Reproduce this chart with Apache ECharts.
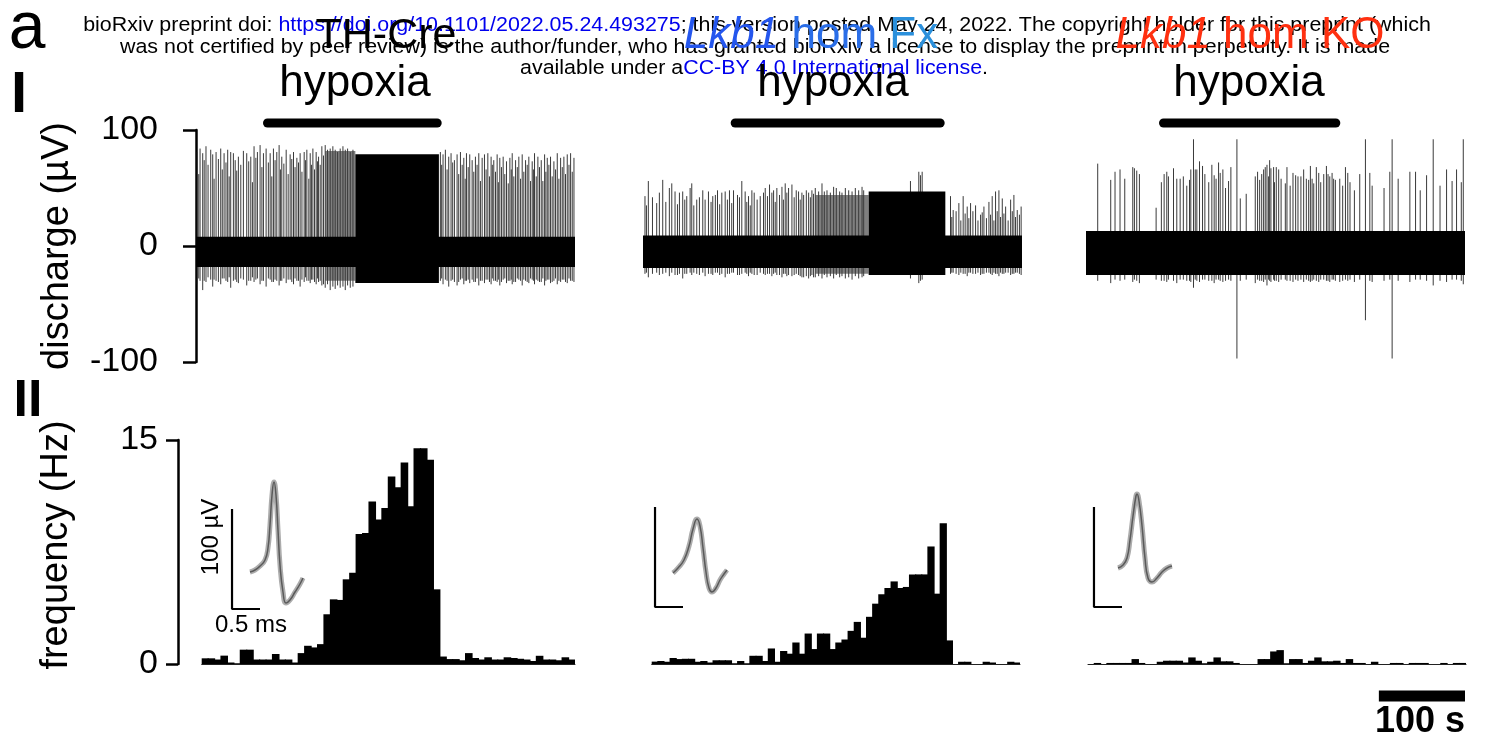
<!DOCTYPE html>
<html>
<head>
<meta charset="utf-8">
<script src="https://cdn.jsdelivr.net/npm/echarts@6/dist/echarts.min.js"></script>
<style>html,body{margin:0;padding:0;background:#fff}#chart{width:1499px;height:742px}</style>
</head>
<body>
<div id="chart"></div>
<script>
let $ = a => document.querySelector(a)

// ---------- data ----------
// time axis of the raw traces (s)
const traceRange = [0, 440]
// hypoxia periods (s)
const hypoxia1 = [83, 280]
const hypoxia2 = [107, 345]
const hypoxia3 = [90, 290]

// noise bands [t0, t1, low uV, high uV]
const noise1 = [[0, 440, -18, 8]]
const noise2 = [[0, 440, -19, 9]]
const noise3 = [[0, 440, -25, 13]]
// partly filled zones (many overlapping spikes)
const partial1 = [[150, 185, -30, 82]]
const partial2 = [[200, 262, -24, 44]]
const partial3 = []
// fully black zones
const dense1 = [[185, 282, -32, 79]]
const dense2 = [[262, 351, -25, 47]]
const dense3 = []

// single spikes [t (s), peak uV, trough uV]
const spikes1 = [[1.6,81,-33],[4.7,84,-30],[7.8,80,-38],[11.6,86,-31],[17.1,83,-29],[19.4,79,-35],[23.3,81,-30],[28.7,84,-33],[32.6,80,-28],[36.8,83,-31],[40.3,81,-36],[43.4,80,-30],[49.2,77,-32],[55.0,82,-29],[58.9,80,-34],[63.6,77,-30],[67.4,86,-31],[71.3,81,-28],[74.4,87,-33],[78.3,80,-30],[81.4,84,-35],[86.1,80,-29],[89.9,84,-31],[93.8,81,-30],[96.5,87,-34],[99.6,77,-30],[104.7,83,-32],[109.3,79,-29],[113.2,81,-33],[117.1,76,-30],[120.9,80,-35],[125.6,81,-31],[128.7,83,-30],[132.6,80,-32],[135.7,84,-29],[139.5,81,-33],[142.3,77,-31],[146.1,86,-34],
  [3.2,62,-28],[9.5,74,-30],[14.0,70,-27],[21.0,58,-29],[26.0,75,-31],[30.5,66,-28],[34.8,72,-30],[38.5,60,-27],[45.5,74,-29],[47.3,65,-31],[52.0,70,-28],[61.2,73,-30],[65.5,55,-27],[69.5,76,-29],[76.5,68,-30],[84.0,72,-28],[88.0,60,-31],[91.8,74,-29],[98.0,66,-30],[102.0,71,-28],[107.0,62,-29],[111.2,75,-31],[115.0,68,-28],[119.0,72,-30],[123.0,64,-29],[127.2,74,-27],[131.0,58,-30],[134.0,70,-29],[137.6,66,-31],[141.0,73,-28],[144.2,70,-30],[148.0,78,-33],
  [150.0,87,-36],[152.7,83,-33],[155.8,84,-38],[158.9,86,-35],[161.6,83,-37],[164.4,81,-34],[167.4,84,-36],[170.6,86,-35],[173.3,83,-38],[176.0,84,-34],[179.1,81,-36],[182.2,83,-35],
  [283.7,81,-30],[286.8,79,-33],[289.5,83,-29],[293.4,77,-35],[296.1,80,-30],[300.0,74,-31],[303.1,79,-34],[307.0,81,-29],[310.9,76,-33],[314.0,80,-30],[317.8,79,-32],[320.6,74,-29],[324.4,77,-31],[328.3,80,-34],[332.2,76,-30],[334.9,79,-32],[338.8,80,-29],[342.6,77,-33],[345.7,74,-30],[349.6,79,-31],[352.7,76,-34],[356.6,77,-29],[360.5,73,-32],[364.4,76,-30],[367.1,80,-33],[371.0,74,-31],[374.8,77,-29],[378.7,79,-34],[382.6,74,-30],[386.4,77,-32],[390.3,73,-29],[393.0,80,-33],[396.9,77,-30],[400.8,74,-31],[404.7,79,-34],[407.8,76,-29],[411.6,77,-32],[415.5,73,-30],[419.4,80,-33],[423.3,76,-31],[427.1,77,-29],[431.0,79,-32],[434.9,80,-30],[438.8,76,-31],
  [285.2,70,-28],[291.5,66,-30],[298.0,72,-29],[305.0,62,-31],[309.0,70,-28],[312.5,58,-30],[316.0,68,-29],[322.5,64,-31],[326.3,70,-28],[330.2,56,-30],[336.8,66,-29],[340.7,60,-31],[344.0,70,-28],[347.7,64,-30],[351.0,55,-29],[354.6,68,-31],[358.5,62,-28],[362.5,54,-30],[366.0,66,-29],[369.0,60,-31],[373.0,68,-28],[376.8,58,-30],[380.6,64,-29],[384.5,70,-31],[388.4,56,-28],[391.7,66,-30],[395.0,60,-29],[398.8,68,-31],[402.7,56,-28],[406.2,64,-30],[409.7,70,-29],[413.5,60,-31],[417.4,66,-28],[421.3,58,-30],[425.2,68,-29],[429.0,62,-31],[433.0,70,-28],[436.8,64,-30]]

const spikes2 = [[2.3,43,-24],[6.2,56,-27],[15.9,37,-23],[19.0,46,-25],[22.9,57,-24],[30.6,50,-26],[33.4,54,-23],[37.2,47,-25],[42.3,46,-24],[46.1,47,-28],[50.8,43,-24],[54.7,50,-23],[56.6,54,-25],[62.4,40,-24],[69.4,48,-23],[72.1,40,-26],[76.0,47,-24],[81.0,43,-25],[86.5,48,-23],[91.5,46,-24],[95.4,47,-27],[100.4,48,-24],[105.1,48,-23],[109.7,44,-25],[114.7,56,-24],[118.6,47,-23],[122.5,43,-26],[126.4,48,-24],[129.1,46,-25],[136.1,43,-23],[139.9,46,-24],[141.9,50,-25],[146.9,53,-24],[149.6,46,-26],[151.6,48,-24],[155.4,50,-25],[161.3,51,-27],[165.1,54,-24],[169.0,50,-25],[172.9,53,-26],[177.9,48,-24],[180.6,47,-25],[184.5,46,-27],[189.6,48,-26],[192.3,46,-28],[196.1,48,-25],[200.0,50,-27],[203.9,47,-26],[207.8,54,-28],[210.5,47,-25],[213.6,48,-27],[217.5,46,-26],[221.3,51,-28],[224.4,50,-25],[228.3,47,-27],[231.0,46,-26],[234.9,50,-28],[238.8,48,-27],[242.7,47,-29],[246.5,50,-26],[250.4,48,-28],[254.3,51,-27],[256.2,48,-26],
  [4.0,35,-23],[11.0,42,-24],[26.5,38,-23],[40.0,36,-25],[48.5,40,-24],[59.0,35,-23],[65.5,42,-25],[79.0,38,-24],[84.0,44,-23],[89.0,36,-25],[98.0,40,-24],[103.0,37,-23],[112.0,42,-25],[120.5,38,-24],[124.5,35,-23],[132.5,40,-25],[144.5,43,-24],[153.5,38,-23],[158.5,44,-25],[163.0,40,-24],[167.0,46,-26],[175.5,42,-25],[182.5,40,-26],[186.5,44,-27],[194.3,42,-26],[198.0,45,-27],
  [310.5,56,-28],[320.2,64,-32],[322.1,61,-30],[324.1,64,-29],
  [357.0,43,-24],[360.1,31,-23],[366.7,37,-25],[371.7,43,-24],[376.4,34,-26],[380.3,37,-23],[386.1,35,-24],[391.9,27,-25],[395.8,34,-24],[401.6,38,-23],[405.4,43,-25],[409.3,47,-24],[413.2,48,-26],[417.1,41,-24],[421.0,34,-23],[426.8,40,-25],[430.6,44,-24],[434.5,31,-23],[439.0,34,-25],
  [358.5,25,-23],[363.5,30,-24],[369.0,22,-23],[374.0,28,-24],[378.3,24,-23],[383.0,30,-24],[388.9,22,-23],[393.8,29,-24],[398.7,24,-23],[403.5,27,-24],[407.4,22,-23],[411.2,30,-24],[415.1,25,-23],[419.0,28,-24],[423.9,22,-23],[428.7,30,-24],[432.5,25,-23],[437.0,27,-24]]

const spikes3 = [[13.6,71,-30],[28.7,57,-32],[33.7,64,-29],[39.5,66,-30],[54.3,68,-31],[56.2,67,-29],[58.9,65,-30],[62.0,62,-32],[81.4,33,-29],[90.7,62,-30],[93.8,64,-31],[95.7,60,-29],[101.6,67,-30],[105.4,58,-32],[109.3,58,-29],[120.2,57,-30],[121.7,66,-31],[124.8,92,-36],[126.8,66,-29],[128.7,66,-30],[131.8,73,-31],[135.3,69,-29],[146.1,70,-30],[148.8,61,-32],[153.9,72,-29],[155.8,63,-30],[158.9,66,-31],[165.5,56,-29],[168.2,68,-30],[175.2,92,-97],[179.1,41,-30],[196.5,60,-32],[199.2,64,-29],[201.6,57,-30],[206.2,66,-31],[208.1,68,-29],[210.1,70,-34],[213.2,74,-30],[214.7,67,-31],[217.8,68,-29],[220.9,68,-30],[223.7,66,-31],[231.4,54,-29],[233.3,68,-30],[240.3,63,-31],[243.4,61,-29],[246.1,60,-30],[252.7,66,-31],[255.8,58,-29],[258.5,57,-30],[260.5,69,-31],[264.4,54,-29],[267.4,68,-30],[270.2,63,-31],[276.0,62,-29],[279.1,69,-30],[283.0,60,-31],[285.7,63,-29],[289.5,57,-30],[294.6,58,-31],[301.2,68,-29],[303.9,63,-30],[311.6,48,-31],[317.8,62,-29],[324.4,92,-64],[329.5,63,-30],[332.2,52,-31],[352.7,64,-29],[355.4,92,-97],[362.4,58,-30],[376.0,64,-31],[382.6,64,-29],[395.4,61,-30],[403.1,92,-34],[418.6,66,-31],[430.2,66,-29],[435.7,55,-30],[438.0,92,-33],
  [45.0,58,-29],[87.5,55,-30],[113.0,60,-29],[117.0,52,-30],[138.0,62,-29],[142.5,55,-30],[151.0,58,-29],[162.0,50,-30],[186.0,45,-29],[204.0,62,-30],[212.0,60,-29],[218.8,55,-30],[226.5,58,-29],[237.0,52,-30],[249.5,60,-29],[262.5,58,-30],[272.5,55,-29],[281.0,62,-30],[287.5,58,-29],[298.0,52,-30],[306.5,55,-29],[346.0,50,-30],[388.0,48,-29],[411.0,52,-30],[425.0,56,-29]]

// firing frequency histograms (Hz per bin)
const freq1 = [0.38,0.38,0.3,0.56,0.1,0.05,0.96,0.96,0.3,0.3,0.3,0.67,0.3,0.3,0.1,0.73,1.22,1.11,1.33,3.33,4.33,4.29,5.67,6.11,8.71,8.78,10.89,9.67,10.44,12.56,11.84,13.49,10.56,14.44,14.44,13.67,5.0,0.5,0.33,0.33,0.25,0.73,0.4,0.3,0.45,0.3,0.3,0.45,0.4,0.35,0.3,0.2,0.55,0.3,0.3,0.25,0.45,0.3]
const freq2 = [0.16,0.2,0.15,0.4,0.33,0.35,0.35,0.15,0.2,0.1,0.25,0.25,0.25,0.05,0.2,0.05,0.55,0.55,0.2,1.04,0.15,0.87,0.69,1.44,0.69,2.04,1.0,2.04,2.04,1.0,1.44,1.64,2.22,2.82,1.76,3.16,4.04,4.67,5.09,5.53,5.09,5.16,6.0,6.0,6.0,7.87,4.71,9.42,1.58,0,0.15,0.15,0,0,0.15,0.1,0,0,0.15,0.1]
const freq3 = [0,0.07,0,0.07,0.07,0.07,0.07,0.33,0.07,0,0,0.15,0.22,0.22,0.22,0.1,0.44,0.22,0.05,0.15,0.44,0.18,0.18,0.07,0,0,0,0.33,0.33,0.84,0.93,0.05,0.33,0.33,0.07,0.22,0.44,0.18,0.18,0.22,0.07,0.33,0.07,0.07,0,0.15,0,0,0.07,0.07,0,0.07,0.07,0.07,0,0,0.07,0,0.07,0.07]

// averaged spike waveforms [ms, uV]
const wave1 = [[0,0],[0.089,2],[0.179,6],[0.268,12],[0.321,24],[0.357,47],[0.393,77],[0.429,90],[0.464,77],[0.5,42],[0.536,7],[0.589,-20],[0.643,-31],[0.714,-28],[0.804,-20],[0.893,-12],[0.946,-6]]
const wave2 = [[0,0],[0.089,5],[0.196,13],[0.286,27],[0.357,44],[0.429,54],[0.482,47],[0.536,25],[0.589,1],[0.643,-15],[0.696,-19],[0.768,-15],[0.839,-7],[0.911,-1],[0.964,3]]
const wave3 = [[0,0],[0.089,3],[0.161,10],[0.214,28],[0.268,52],[0.321,72],[0.339,74],[0.375,67],[0.429,42],[0.482,10],[0.536,-10],[0.607,-14],[0.696,-10],[0.786,-4],[0.875,0],[0.964,2]]
// inset scale bars: corner [ms, uV], 100 uV by 0.5 ms
const scaleCorner1 = [-0.321, -37]
const scaleCorner2 = [-0.321, -34]
const scaleCorner3 = [-0.429, -39]
const scaleUV = 100
const scaleMs = 0.5
// time scale bar (s)
const timeBar = [340, 440]

const yTicksTop = [-100, 0, 100]
const yTicksBottom = [0, 15]

const FONT = "'Liberation Sans', Arial, sans-serif"

// ---------- layout ----------
const topLefts = [196, 643, 1086]
const botGrids = [[201.7, 373.3], [651.7, 368.3], [1088, 378]]
const insetLefts = [[222, 472], [645, 473], [1090, 468]]

let grid = [], xAxis = [], yAxis = [], series = []

function bandItem(color) {
    return function (params, api) {
        let p0 = api.coord([api.value(0), api.value(3)])
        let p1 = api.coord([api.value(1), api.value(2)])
        return {type: 'rect', shape: {x: p0[0], y: p0[1], width: p1[0] - p0[0], height: p1[1] - p0[1]}, style: {fill: color}}
    }
}
function spikeItem(params, api) {
    let a = api.coord([api.value(0), api.value(1)])
    let b = api.coord([api.value(0), api.value(2)])
    return {type: 'line', shape: {x1: a[0], y1: a[1], x2: b[0], y2: b[1]}, style: {stroke: '#3a3a3a', lineWidth: 1}}
}

const panels = [
    {noise: noise1, partial: partial1, dense: dense1, spikes: spikes1, hyp: hypoxia1, freq: freq1, wave: wave1, corner: scaleCorner1},
    {noise: noise2, partial: partial2, dense: dense2, spikes: spikes2, hyp: hypoxia2, freq: freq2, wave: wave2, corner: scaleCorner2},
    {noise: noise3, partial: partial3, dense: dense3, spikes: spikes3, hyp: hypoxia3, freq: freq3, wave: wave3, corner: scaleCorner3},
]

const axisStyle = {lineStyle: {color: '#000', width: 2.5}}

// top traces: grids 0..2
panels.forEach((p, i) => {
    grid.push({left: topLefts[i], top: 130, width: 379, height: 232})
    xAxis.push({gridIndex: i, type: 'value', min: traceRange[0], max: traceRange[1], show: false})
    yAxis.push(i === 0 ? {
        gridIndex: i, type: 'value', min: -100, max: 100, interval: 100, offset: 18,
        axisLine: {show: true, ...axisStyle}, axisTick: {show: true, length: 13, ...axisStyle},
        axisLabel: {fontSize: 34, color: '#000', fontFamily: FONT, margin: 20,
            customValues: yTicksTop},
        splitLine: {show: false}
    } : {gridIndex: i, type: 'value', min: -100, max: 100, show: false})
    series.push({type: 'custom', xAxisIndex: i, yAxisIndex: i, dimensions: ['t0', 't1', 'lo', 'hi'], encode: {x: [0, 1], y: [2, 3]},
        renderItem: bandItem('#000'), data: p.noise, silent: true, z: 3})
    series.push({type: 'custom', xAxisIndex: i, yAxisIndex: i, dimensions: ['t0', 't1', 'lo', 'hi'], encode: {x: [0, 1], y: [2, 3]},
        renderItem: bandItem('rgba(0,0,0,0.5)'), data: p.partial, silent: true, z: 2})
    series.push({type: 'custom', xAxisIndex: i, yAxisIndex: i, dimensions: ['t0', 't1', 'lo', 'hi'], encode: {x: [0, 1], y: [2, 3]},
        renderItem: bandItem('#000'), data: p.dense, silent: true, z: 3})
    series.push({type: 'custom', xAxisIndex: i, yAxisIndex: i, dimensions: ['t', 'top', 'bottom'], encode: {x: 0, y: [1, 2]},
        renderItem: spikeItem, data: p.spikes, silent: true, z: 2})
    // hypoxia bar just above the trace
    series.push({type: 'line', xAxisIndex: i, yAxisIndex: i, clip: false, showSymbol: false, silent: true,
        lineStyle: {color: '#000', width: 9, cap: 'round'},
        data: [[p.hyp[0], 106], [p.hyp[1], 106]]})
})

// histograms: grids 3..5
panels.forEach((p, i) => {
    let gi = 3 + i
    grid.push({left: botGrids[i][0], top: 440, width: botGrids[i][1], height: 224})
    xAxis.push({gridIndex: gi, type: 'category', data: p.freq.map((v, k) => k),
        axisLine: {show: true, lineStyle: {color: '#222', width: 1}}, axisTick: {show: false}, axisLabel: {show: false}})
    yAxis.push(i === 0 ? {
        gridIndex: gi, type: 'value', min: 0, max: 15, interval: 15, offset: botGrids[0][0] - 178,
        axisLine: {show: true, ...axisStyle}, axisTick: {show: true, length: 12, ...axisStyle},
        axisLabel: {fontSize: 34, color: '#000', fontFamily: FONT, margin: 20, customValues: yTicksBottom},
        splitLine: {show: false}
    } : {gridIndex: gi, type: 'value', min: 0, max: 15, show: false})
    series.push({type: 'bar', xAxisIndex: gi, yAxisIndex: gi, data: p.freq, barWidth: '118%',
        itemStyle: {color: '#000'}, silent: true})
})

// spike waveform insets: grids 6..8
panels.forEach((p, i) => {
    let gi = 6 + i
    grid.push({left: insetLefts[i][0], top: insetLefts[i][1], width: 84, height: 150})
    xAxis.push({gridIndex: gi, type: 'value', min: -0.5, max: 1.0, show: false})
    yAxis.push({gridIndex: gi, type: 'value', min: -50, max: 100, show: false})
    series.push({type: 'line', xAxisIndex: gi, yAxisIndex: gi, data: p.wave, smooth: true, showSymbol: false, silent: true,
        lineStyle: {color: 'rgba(90,90,90,0.5)', width: 5}, z: 4})
    series.push({type: 'line', xAxisIndex: gi, yAxisIndex: gi, data: p.wave, smooth: true, showSymbol: false, silent: true,
        lineStyle: {color: '#5a5a5a', width: 1.5}, z: 5})
    let c = p.corner
    series.push({type: 'line', xAxisIndex: gi, yAxisIndex: gi, showSymbol: false, silent: true, clip: false,
        lineStyle: {color: '#000', width: 2.2},
        data: [[c[0], c[1] + scaleUV], [c[0], c[1]], [c[0] + scaleMs, c[1]]]})
})

// time scale bar: grid 9 shares the trace time axis of panel 3
grid.push({left: topLefts[2], top: 690, width: 379, height: 12})
xAxis.push({gridIndex: 9, type: 'value', min: traceRange[0], max: traceRange[1], show: false})
yAxis.push({gridIndex: 9, type: 'value', min: 0, max: 1, show: false})
series.push({type: 'line', xAxisIndex: 9, yAxisIndex: 9, showSymbol: false, silent: true, clip: false,
    lineStyle: {color: '#000', width: 11}, data: [[timeBar[0], 0.5], [timeBar[1], 0.5]]})

// ---------- text ----------
function txt(x, y, text, size, extra) {
    return {type: 'text', x: x, y: y, silent: true, z: 50,
        style: Object.assign({text: text, font: size + 'px ' + FONT, fill: '#000', textAlign: 'center', textVerticalAlign: 'middle'}, extra || {})}
}
const hdr = '20.5px ' + FONT
const hdrScale = 1.045
let graphics = [
    Object.assign(txt(757, 25, 'bioRxiv preprint doi: {u|https://doi.org/10.1101/2022.05.24.493275}; this version posted May 24, 2022. The copyright holder for this preprint (which', 20.5,
        {rich: {u: {font: hdr, fill: '#0000ee'}}}), {scaleX: hdrScale}),
    Object.assign(txt(755, 47, 'was not certified by peer review) is the author/funder, who has granted bioRxiv a license to display the preprint in perpetuity. It is made', 20.5), {scaleX: hdrScale}),
    Object.assign(txt(754, 68, 'available under a{u|CC-BY 4.0 International license}.', 20.5, {rich: {u: {font: hdr, fill: '#0000ee'}}}), {scaleX: hdrScale}),
    txt(386, 36, 'TH-Cre', 43),
    txt(811, 36, '{i|Lkb1} {h|hom} {f|Fx}', 44, {rich: {
        i: {font: 'italic 44px ' + FONT, fill: '#2456ee'},
        h: {font: '44px ' + FONT, fill: '#2a6ee8'},
        f: {font: '44px ' + FONT, fill: '#2b90dc'}}}),
    txt(1250, 36, '{i|Lkb1} hom KO', 44, {fill: '#ff3010', rich: {i: {font: 'italic 44px ' + FONT, fill: '#ff3010'}}}),
    txt(355, 84, 'hypoxia', 44),
    txt(833, 84, 'hypoxia', 44),
    txt(1249, 84, 'hypoxia', 44),
    txt(27, 30, 'a', 66),
    txt(19, 96, 'I', 58, {font: 'bold 58px ' + FONT}),
    txt(28, 402, 'II', 52, {font: 'bold 52px ' + FONT}),
    Object.assign(txt(58, 246, 'discharge (µV)', 38), {rotation: Math.PI / 2}),
    Object.assign(txt(57, 545, 'frequency (Hz)', 38), {rotation: Math.PI / 2}),
    Object.assign(txt(211, 537, '100 µV', 24), {rotation: Math.PI / 2}),
    txt(251, 625, '0.5 ms', 24),
    txt(1420, 722, '100 s', 36, {font: 'bold 36px ' + FONT}),
]

echarts.init($('#chart')).setOption({
    animation: false,
    grid: grid,
    xAxis: xAxis,
    yAxis: yAxis,
    series: series,
    graphic: {elements: graphics}
})
</script>
</body>
</html>
